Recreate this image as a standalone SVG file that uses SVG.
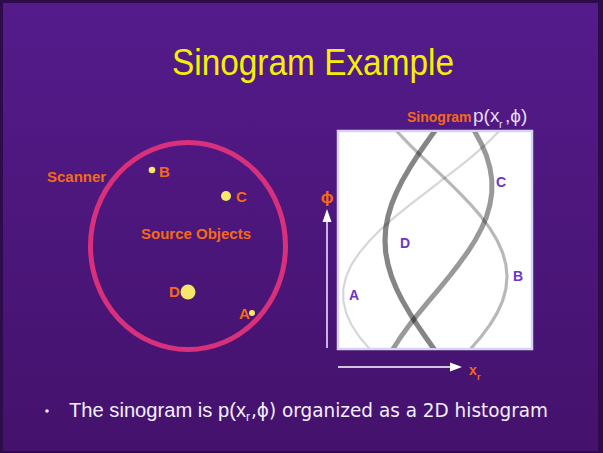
<svg xmlns="http://www.w3.org/2000/svg" width="603" height="453" viewBox="0 0 603 453">
<defs>
<linearGradient id="bg" x1="0" y1="0" x2="0" y2="1">
<stop offset="0" stop-color="#541b8b"/>
<stop offset="1" stop-color="#44126c"/>
</linearGradient>
<clipPath id="boxclip"><rect x="339" y="132" width="192" height="216"/></clipPath>
<filter id="soft" x="-5%" y="-5%" width="110%" height="110%"><feGaussianBlur stdDeviation="0.7"/></filter>
<style>
.lbl{font-family:"Liberation Sans",Arial,sans-serif;font-weight:bold;fill:#f56a12}
.plbl{font-family:"Liberation Sans",Arial,sans-serif;font-weight:bold;fill:#6a35c8;font-size:14px}
.dot{fill:#f6e66a}
.curve{fill:none;stroke:#000;stroke-linejoin:round;stroke-linecap:round}
.comic{font-family:"Comic Sans MS","Liberation Sans",Arial,sans-serif}
</style>
</defs>
<rect x="0" y="0" width="603" height="453" fill="#2d0c4b"/>
<rect x="3" y="3" width="595" height="448" fill="url(#bg)"/>
<text class="comic" x="172" y="75" font-size="37" fill="#f6f000" textLength="282" lengthAdjust="spacingAndGlyphs">Sinogram Example</text>

<g id="scanner">
<ellipse cx="188" cy="246" rx="97.5" ry="103.5" fill="none" stroke="#d9307c" stroke-width="5"/>
<text class="lbl" x="47" y="182" font-size="15">Scanner</text>
</g>
<g id="source-objects">
<text class="lbl" x="141" y="239" font-size="15">Source Objects</text>
<g id="point-B"><circle class="dot" cx="152" cy="170" r="3.3"/><text class="lbl" x="159" y="177" font-size="15">B</text></g>
<g id="point-C"><circle class="dot" cx="226" cy="196" r="5"/><text class="lbl" x="236" y="202" font-size="15">C</text></g>
<g id="point-D"><circle class="dot" cx="188" cy="292" r="7.5"/><text class="lbl" x="169" y="297" font-size="15">D</text></g>
<g id="point-A"><circle class="dot" cx="252" cy="313" r="3"/><text class="lbl" x="239" y="319" font-size="15">A</text></g>
</g>

<g id="sinogram">
<text class="lbl" x="407" y="122" font-size="14">Sinogram</text>
<text x="473" y="122" font-family="Liberation Sans,Arial,sans-serif" font-size="19" fill="#e6def6">p(x</text>
<text x="499" y="128" font-family="Liberation Sans,Arial,sans-serif" font-size="11" fill="#e6def6">r</text>
<text x="505" y="122" font-family="Liberation Sans,'DejaVu Sans',sans-serif" font-size="19" fill="#e6def6">,ϕ)</text>
<rect x="338" y="131" width="194" height="218" fill="#ffffff" stroke="#d6d4f6" stroke-width="2.5"/>
<g clip-path="url(#boxclip)" filter="url(#soft)">
<polyline class="curve" stroke-opacity="0.16" stroke-width="2.2" points="508.5,119.9 498.3,132 486.2,144.1 472.5,156.1 457.6,168.2 441.9,180.2 426.1,192.3 410.4,204.3 395.5,216.4 381.8,228.4 369.7,240.5 359.5,252.6 351.5,264.6 346.1,276.7 343.3,288.8 343.3,300.8 346.1,312.8 351.5,324.9 359.5,337 369.7,349 381.8,361.1"/>
<polyline class="curve" stroke-opacity="0.28" stroke-width="3.2" points="387.1,119.9 397.5,132 409,144.1 421.3,156.1 434,168.2 446.7,180.2 459,192.3 470.5,204.3 480.9,216.4 489.9,228.4 497.2,240.5 502.6,252.6 505.9,264.6 507,276.7 505.9,288.8 502.6,300.8 497.2,312.8 489.9,324.9 480.9,337 470.5,349 459,361.1"/>
<polyline class="curve" stroke-opacity="0.4" stroke-width="5" points="467.3,119.9 475,132 481.5,144.1 486.6,156.1 490,168.2 491.8,180.2 491.8,192.3 490,204.3 486.6,216.4 481.5,228.4 475,240.5 467.3,252.6 458.5,264.6 449,276.7 439.1,288.8 428.9,300.8 419,312.8 409.5,324.9 400.7,337 393,349 386.5,361.1"/>
<polyline class="curve" stroke-opacity="0.48" stroke-width="5.2" points="442.5,119.9 434,132 425.5,144.1 417.2,156.1 409.5,168.2 402.5,180.2 396.5,192.3 391.6,204.3 388,216.4 385.7,228.4 385,240.5 385.7,252.6 388,264.6 391.6,276.7 396.5,288.8 402.5,300.8 409.5,312.8 417.2,324.9 425.5,337 434,349 442.5,361.1"/>
</g>
<text class="plbl" x="496" y="187">C</text>
<text class="plbl" x="400" y="248">D</text>
<text class="plbl" x="513" y="281">B</text>
<text class="plbl" x="349" y="300">A</text>
</g>

<g id="axes">
<line x1="327" y1="348" x2="327" y2="220" stroke="#c8b4e4" stroke-width="2"/>
<polygon points="327,209 322.5,222 331.5,222" fill="#ffffff"/>
<text class="lbl" x="327" y="203" font-size="17" text-anchor="middle" font-family="'DejaVu Sans',sans-serif">ϕ</text>
<line x1="338" y1="367" x2="451" y2="367" stroke="#ffffff" stroke-width="1.5"/>
<polygon points="462,367 450,362.5 450,371.5" fill="#ffffff"/>
<text class="lbl" x="469" y="375" font-size="14">x</text>
<text class="lbl" x="477" y="380" font-size="9">r</text>
</g>

<g id="caption" fill="#f2f0ff">
<circle cx="47" cy="411" r="1.8"/>
<text class="comic" x="69" y="417" font-size="20" textLength="177" lengthAdjust="spacingAndGlyphs">The sinogram is p(x</text>
<text class="comic" x="246" y="421" font-size="12">r</text>
<text x="251" y="417" font-family="'Comic Sans MS','DejaVu Sans',sans-serif" font-size="20" textLength="297" lengthAdjust="spacingAndGlyphs">,ϕ) organized as a 2D histogram</text>
</g>
</svg>
